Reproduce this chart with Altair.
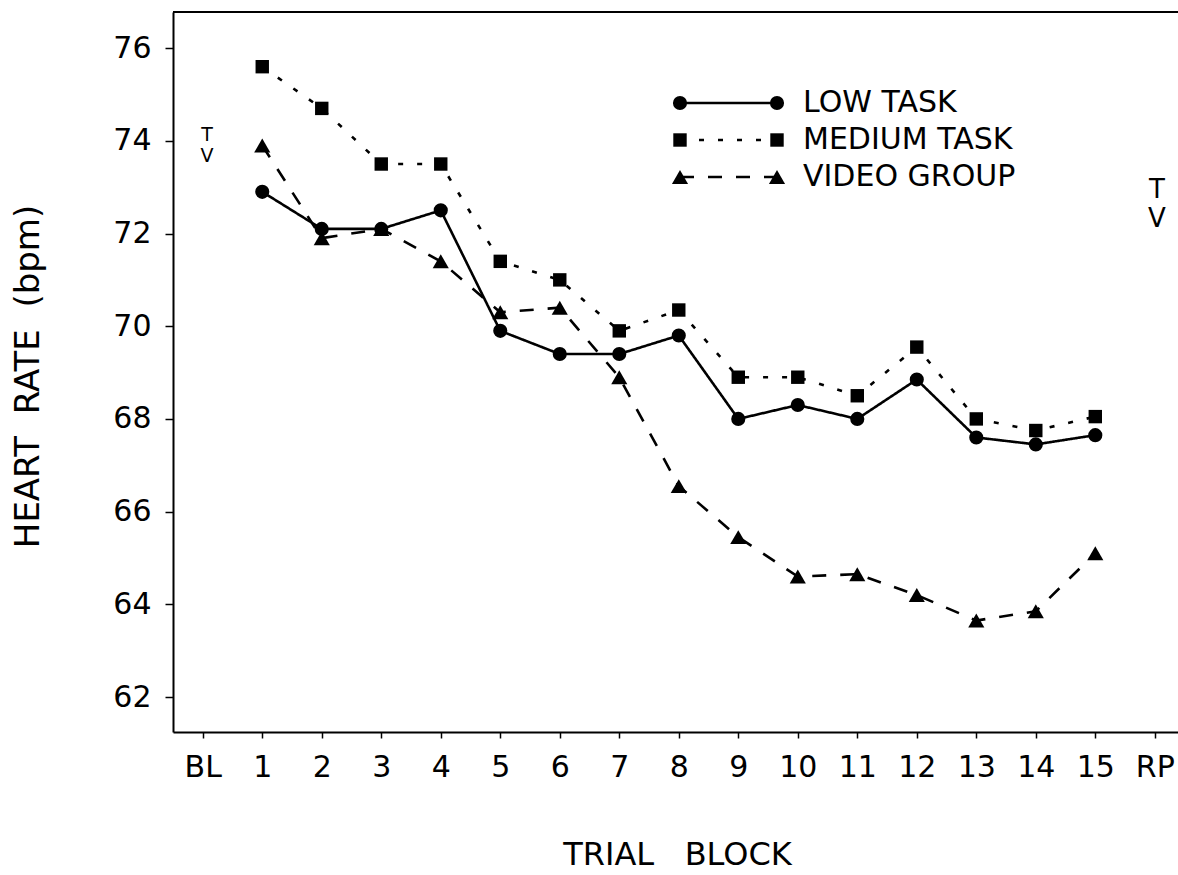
import altair as alt
import pandas as pd

# Trial blocks 1..15 (BL = 0 and RP = 16 are axis-only positions)
trials = list(range(1, 16))

low_task = [72.9, 72.1, 72.1, 72.5, 69.9, 69.4, 69.4, 69.8, 68.0, 68.3, 68.0, 68.85, 67.6, 67.45, 67.65]
medium_task = [75.6, 74.7, 73.5, 73.5, 71.4, 71.0, 69.9, 70.35, 68.9, 68.9, 68.5, 69.55, 68.0, 67.75, 68.05]
video_group = [73.9, 71.9, 72.1, 71.4, 70.3, 70.4, 68.9, 66.55, 65.45, 64.6, 64.65, 64.2, 63.65, 63.85, 65.1]

group_names = ["LOW TASK", "MEDIUM TASK", "VIDEO GROUP"]
group_values = [low_task, medium_task, video_group]
group_shapes = ["circle", "square", "triangle-up"]
group_sizes = [200, 180, 260]
group_dashes = [[1, 0], [5, 14], [14, 14]]

x_tick_values = list(range(0, 17))
y_tick_values = [62, 64, 66, 68, 70, 72, 74, 76]

FONT = "DejaVu Sans"
NB = "\u00a0"  # non-breaking space keeps the wide word gaps
W, H = 1005, 720

x_scale = alt.Scale(domain=[-0.5, 16.39], nice=False, zero=False)
y_scale = alt.Scale(domain=[61.245, 76.78], nice=False, zero=False)

x_axis = alt.Axis(
    values=x_tick_values,
    labelExpr="datum.value == 0 ? 'BL' : datum.value == 16 ? 'RP' : datum.value",
    grid=False, tickSize=6, tickColor="black", tickWidth=1.5,
    domainColor="black", domainWidth=2,
    labelFont=FONT, labelFontSize=30, labelColor="black", labelPadding=14,
    labelBaseline="top", labelFlush=False, labelOverlap=False,
    title=f"TRIAL{NB}{NB}{NB}BLOCK", titleFont=FONT, titleFontSize=32, titleFontWeight="normal",
    titleColor="black", titleX=504, titleY=132, titleBaseline="alphabetic", titleAnchor="middle",
    titleAlign="center",
)
y_axis = alt.Axis(
    values=y_tick_values,
    grid=False, tickSize=8, tickColor="black", tickWidth=1.5,
    domainColor="black", domainWidth=2,
    labelFont=FONT, labelFontSize=30, labelColor="black", labelPadding=14,
    labelFlush=False, labelOverlap=False,
    title=f"HEART{NB}{NB}RATE{NB}{NB}(bpm)", titleFont=FONT, titleFontSize=34, titleFontWeight="normal",
    titleColor="black", titleX=-135, titleY=364, titleAngle=-90,
    titleBaseline="alphabetic", titleAlign="center",
)

rows = []
for name, vals in zip(group_names, group_values):
    for t, v in zip(trials, vals):
        rows.append({"trial": t, "hr": v, "group": name})
df = pd.DataFrame(rows)

enc = dict(
    x=alt.X("trial:Q", scale=x_scale, axis=x_axis),
    y=alt.Y("hr:Q", scale=y_scale, axis=y_axis),
)

layers = []
for name, shape, size, dash in zip(group_names, group_shapes, group_sizes, group_dashes):
    base = alt.Chart(df[df["group"] == name])
    layers.append(base.mark_line(color="black", strokeWidth=2.6, strokeDash=dash).encode(**enc))
    layers.append(base.mark_point(shape=shape, size=size, filled=True, color="black", opacity=1).encode(**enc))

# Top frame line
layers.append(
    alt.Chart(pd.DataFrame({"k": [0]})).mark_rule(color="black", strokeWidth=2).encode(
        x=alt.value(0), x2=alt.value(W), y=alt.value(0)
    )
)

# Legend: marker - line - marker, then label
legend_y = [91, 128, 165]
for name, shape, size, dash, ly in zip(group_names, group_shapes, group_sizes, group_dashes, legend_y):
    one = alt.Chart(pd.DataFrame({"label": [name]}))
    layers.append(
        one.mark_rule(color="black", strokeWidth=2.6, strokeDash=dash).encode(
            x=alt.value(507), x2=alt.value(604), y=alt.value(ly)
        )
    )
    for lx in (507, 604):
        layers.append(
            one.mark_point(shape=shape, size=size, filled=True, color="black", opacity=1).encode(
                x=alt.value(lx), y=alt.value(ly)
            )
        )
    layers.append(
        one.mark_text(font=FONT, fontSize=30, color="black", align="left", baseline="middle").encode(
            x=alt.value(630), y=alt.value(ly), text="label:N"
        )
    )

# "T over V" markers at the baseline and recovery ends
marks = [("T", 34, 123, 19), ("V", 34, 144, 19), ("T", 984, 178, 26), ("V", 984, 207, 26)]
for txt, mx, my, fs in marks:
    layers.append(
        alt.Chart(pd.DataFrame({"t": [txt]})).mark_text(
            font=FONT, fontSize=fs, color="black", align="center", baseline="middle"
        ).encode(x=alt.value(mx), y=alt.value(my), text="t:N")
    )

chart = alt.layer(*layers).properties(
    width=W, height=H,
    padding={"left": 173, "top": 12, "right": 0, "bottom": 143},
    autosize=alt.AutoSizeParams(type="none"),
    background="white",
).configure_view(stroke=None)

chart.save("out.html", embed_options={"renderer": "svg", "actions": False})
